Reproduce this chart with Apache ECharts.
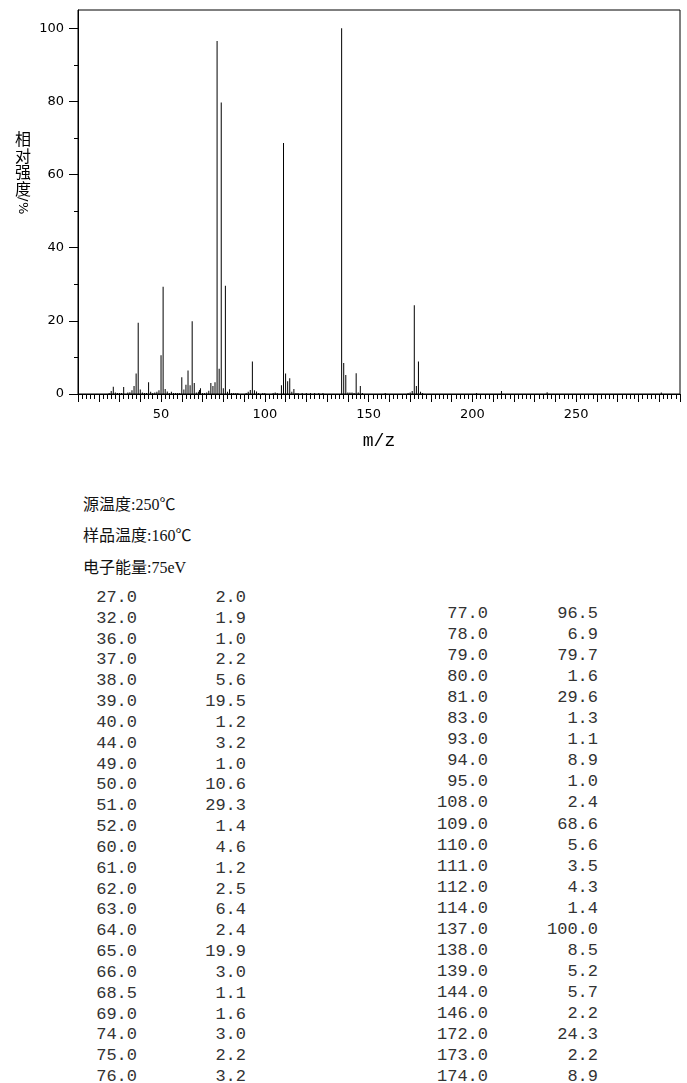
<!DOCTYPE html>
<html>
<head>
<meta charset="utf-8">
<script src="https://cdn.jsdelivr.net/npm/echarts@6/dist/echarts.min.js"></script>
<style>
  html, body { margin: 0; padding: 0; background: #fff; }
  body { width: 687px; height: 1083px; overflow: hidden; position: relative; }
  #main { position: absolute; left: 0; top: 0; width: 687px; height: 460px; }
  #yname { position: absolute; left: 14px; top: 131px; writing-mode: vertical-rl; font-size: 16px;
           line-height: 18px; letter-spacing: 0.5px; color: #000; font-family: "Noto Sans CJK SC", sans-serif; }
  #yname span { font-family: "DejaVu Sans", sans-serif; font-size: 13px; }
  .cond { position: absolute; left: 83px; font-size: 16px; line-height: 20px; color: #111;
          font-family: "Liberation Serif", "Noto Sans CJK SC", serif; }
  .cell { position: absolute; text-align: right; font-family: "Liberation Mono", "DejaVu Sans Mono", monospace;
          font-size: 17px; color: #333; white-space: pre; }
</style>
</head>
<body>
<div id="main"></div>
<div id="yname">相对强度<span>/%</span></div>
<div class="cond" style="top:495px">源温度:250℃</div>
<div class="cond" style="top:526px">样品温度:160℃</div>
<div class="cond" style="top:558px">电子能量:75eV</div>
<div id="table"></div>
<script type="text/javascript">
// 表中列出的峰 (m/z, 相对强度)
var listedMz = [27, 32, 36, 37, 38, 39, 40, 44, 49, 50, 51, 52, 60, 61, 62, 63, 64, 65, 66, 68.5, 69, 74, 75, 76,
                77, 78, 79, 80, 81, 83, 93, 94, 95, 108, 109, 110, 111, 112, 114, 137, 138, 139, 144, 146, 172, 173, 174];
var listedIntensity = [2.0, 1.9, 1.0, 2.2, 5.6, 19.5, 1.2, 3.2, 1.0, 10.6, 29.3, 1.4, 4.6, 1.2, 2.5, 6.4, 2.4, 19.9, 3.0, 1.1, 1.6, 3.0, 2.2, 3.2,
                       96.5, 6.9, 79.7, 1.6, 29.6, 1.3, 1.1, 8.9, 1.0, 2.4, 68.6, 5.6, 3.5, 4.3, 1.4, 100.0, 8.5, 5.2, 5.7, 2.2, 24.3, 2.2, 8.9];
// 图中可见但未列入表的小峰 (估读)
var minorMz = [25, 26, 28, 29, 30, 31, 34, 35, 41, 42, 43, 45, 46, 47, 48, 53, 54, 55, 56, 57, 58, 59, 67, 68, 70, 71, 72, 73,
               82, 84, 85, 86, 87, 91, 92, 96, 97, 99, 100, 104, 105, 106, 113, 115, 116, 118, 120, 122, 124, 126, 128,
               140, 141, 142, 143, 145, 147, 158, 169, 170, 171, 175, 176, 202, 214, 236, 291];
var minorIntensity = [0.3, 0.8, 0.4, 0.3, 0.3, 0.3, 0.4, 0.5, 0.4, 0.3, 0.3, 0.6, 0.3, 0.4, 0.6, 0.7, 0.3, 0.6, 0.3, 0.3, 0.3, 0.3, 0.4, 0.6, 0.3, 0.3, 0.4, 0.9,
                      0.6, 0.3, 0.3, 0.3, 0.3, 0.3, 0.6, 0.7, 0.3, 0.3, 0.3, 0.3, 0.4, 0.3, 0.6, 0.3, 0.3, 0.3, 0.3, 0.3, 0.3, 0.3, 0.3,
                      0.4, 0.4, 0.4, 0.3, 0.4, 0.3, 0.3, 0.3, 0.4, 0.8, 0.6, 0.3, 0.3, 0.8, 0.5, 0.4];
var xLabels = [50, 100, 150, 200, 250];
var yLabels = [0, 20, 40, 60, 80, 100];
var yMinorTicks = [10, 30, 50, 70, 90];
var leftRows = 24; // 表左栏行数

var peaks = [];
listedMz.forEach(function (m, i) { peaks.push([m, listedIntensity[i]]); });
minorMz.forEach(function (m, i) { peaks.push([m, minorIntensity[i]]); });
peaks.sort(function (a, b) { return a[0] - b[0]; });

var myChart = echarts.init(document.getElementById('main'));
myChart.setOption({
    animation: false,
    grid: { left: 78, right: 7, top: 10, bottom: 66, show: true, borderColor: '#000', borderWidth: 1 },
    xAxis: {
        type: 'value', min: 10, max: 300, interval: 10,
        name: 'm/z', nameLocation: 'middle', nameGap: 38,
        nameTextStyle: { fontFamily: 'Liberation Mono', fontSize: 18, color: '#000' },
        axisLine: { onZero: false, lineStyle: { color: '#000', width: 1 } },
        axisTick: { length: 8, lineStyle: { color: '#000' } },
        minorTick: { show: true, splitNumber: 5, length: 5, lineStyle: { color: '#000' } },
        splitLine: { show: false },
        axisLabel: { customValues: xLabels, margin: 14, fontFamily: 'DejaVu Sans', fontSize: 13, color: '#000' }
    },
    yAxis: [{
        type: 'value', min: 0, max: 105,
        axisLine: { show: true, onZero: false, lineStyle: { color: '#000', width: 1 } },
        axisTick: { customValues: yLabels, length: 9, lineStyle: { color: '#000' } },
        splitLine: { show: false },
        axisLabel: { customValues: yLabels, margin: 14, fontFamily: 'DejaVu Sans', fontSize: 13, color: '#000' }
    }, {
        type: 'value', min: 0, max: 105, position: 'left',
        axisLine: { show: false },
        axisTick: { show: true, customValues: yMinorTicks, length: 4, lineStyle: { color: '#000' } },
        splitLine: { show: false },
        axisLabel: { show: false }
    }],
    series: [{
        type: 'bar', barWidth: 1, yAxisIndex: 0,
        itemStyle: { color: '#000' },
        data: peaks
    }]
});

// 数据表
var table = document.getElementById('table');
function cell(text, right, top) {
    var d = document.createElement('div');
    d.className = 'cell';
    d.textContent = text;
    d.style.left = (right - 80) + 'px';
    d.style.width = '80px';
    d.style.top = top + 'px';
    table.appendChild(d);
}
listedMz.forEach(function (m, i) {
    var mz = m.toFixed(1), val = listedIntensity[i].toFixed(1);
    if (i < leftRows) {
        var top = 588 + i * 20.83;
        cell(mz, 137, top);
        cell(val, 246, top);
    } else {
        var top2 = 604 + (i - leftRows) * 21.05;
        cell(mz, 488, top2);
        cell(val, 598, top2);
    }
});
</script>
</body>
</html>
